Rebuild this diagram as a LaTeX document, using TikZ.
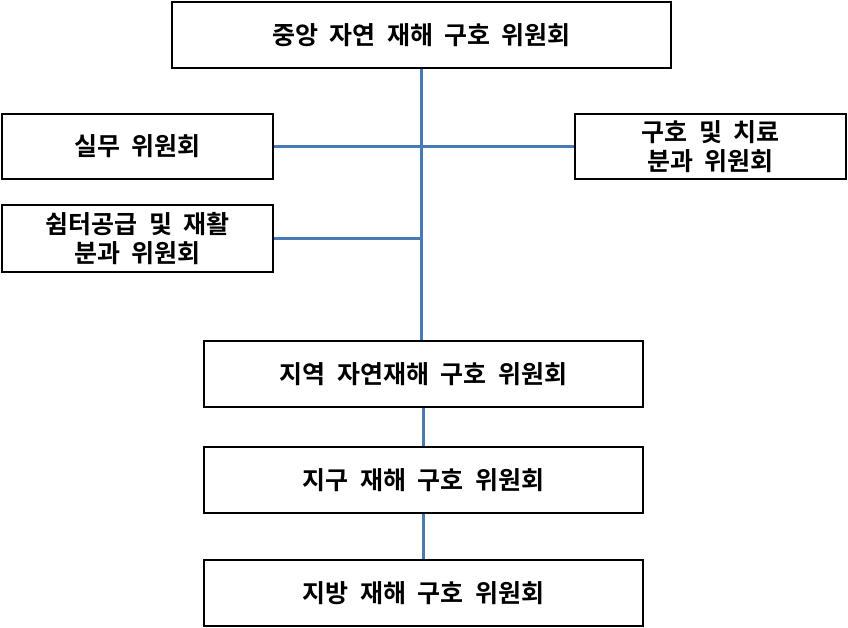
\documentclass[tikz,border=0pt]{standalone}
\usepackage{fontspec}
\setmainfont{Noto Sans CJK KR Bold}[WordSpace=2.0]
\definecolor{linkblue}{RGB}{74,122,181}
\tikzset{
  box/.style={draw, line width=2pt, rectangle, align=center, font=\fontsize{25}{29}\selectfont, inner sep=0pt},
  link/.style={draw, linkblue, line width=2.4pt}
}
\begin{document}
\begin{tikzpicture}[x=1pt,y=-1pt]
\useasboundingbox (0,0) rectangle (848,628);
\node[box, minimum width=499, minimum height=66] (top) at (421.5,35) {중앙 자연 재해 구호 위원회};
\node[box, minimum width=271, minimum height=65] (work) at (137.5,146.5) {실무 위원회};
\node[box, minimum width=271, minimum height=65] (relief) at (710.5,146.5) {구호 및 치료\\분과 위원회};
\node[box, minimum width=271, minimum height=66] (shelter) at (137.5,238.5) {쉼터공급 및 재활\\분과 위원회};
\node[box, minimum width=439, minimum height=66] (region) at (423.5,374) {지역 자연재해 구호 위원회};
\node[box, minimum width=439, minimum height=66] (district) at (423.5,480) {지구 재해 구호 위원회};
\node[box, minimum width=439, minimum height=66] (local) at (423.5,593) {지방 재해 구호 위원회};

\path[link] (top.south) -- (top.south |- region.north);
\path[link] (work.east) -- (relief.west);
\path[link] (shelter.east) -- (shelter.east -| top.south);
\path[link] (region.south) -- (district.north);
\path[link] (district.south) -- (local.north);
\end{tikzpicture}
\end{document}
